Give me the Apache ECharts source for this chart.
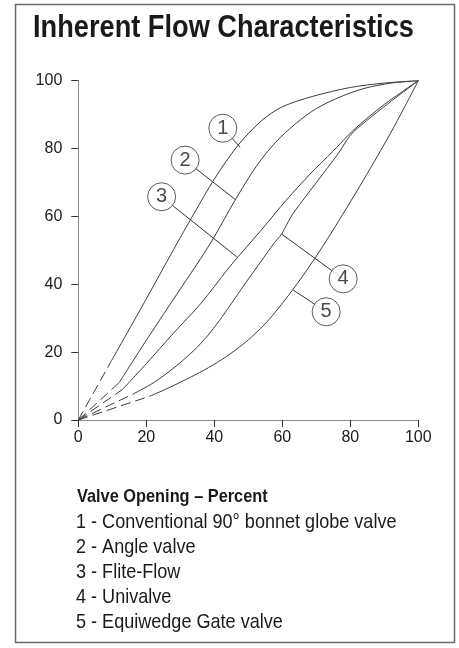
<!DOCTYPE html>
<html>
<head>
<meta charset="utf-8">
<script src="https://cdn.jsdelivr.net/npm/echarts@6/dist/echarts.min.js"></script>
<style>
  html, body { margin: 0; padding: 0; background: #fff; }
  #chart { width: 459px; height: 648px; }
</style>
</head>
<body>
<div id="chart"></div>
<script>
// Axis ticks (percent)
const axisTicks = [0, 20, 40, 60, 80, 100];

// Flow (%) vs. valve opening (%); the first segment from the origin is drawn dashed
const globeValve = [[0, 0], [9.5, 17], [20, 35.7], [28, 50.2], [34, 60.8], [40, 71], [47, 81], [54, 88.3], [60, 92.3], [69, 95.4], [80, 98], [90, 99.3], [100, 100]];
const angleValve = [[0, 0], [12, 11], [20, 23.5], [30, 38.6], [36, 47.6], [40, 54], [46, 64.6], [52.5, 75], [58, 81.8], [64, 87.4], [70, 91.8], [77, 95.2], [84, 97.7], [92, 99.3], [100, 100]];
const fliteFlow = [[0, 0], [13, 9], [20, 16.6], [28, 25.6], [36, 34.3], [44, 44.5], [47, 48.1], [54, 56.2], [61, 64.6], [68, 72.3], [75, 79.3], [81, 85.5], [90, 93], [100, 100]];
const univalve = [[0, 0], [16, 7.6], [22, 10.9], [28.4, 15.6], [34, 20.5], [38, 24.8], [41.5, 29.3], [45, 34.3], [49.5, 40.8], [54, 47.1], [57.5, 52], [59.8, 54.8], [61.3, 57.6], [63.2, 60.9], [67, 66], [72, 72.6], [76.5, 78.6], [81, 85], [100, 100]];
const equiwedgeGate = [[0, 0], [21, 7], [26, 9.2], [31.4, 11.8], [37, 14.7], [42.2, 17.8], [47, 21.2], [51, 24.5], [56, 29.5], [60.8, 35.4], [65.2, 41.3], [70, 48.3], [74, 54.5], [79, 62.6], [83.8, 70.6], [88, 77.8], [91.7, 84.3], [96, 92.3], [100, 100]];

const curves = [globeValve, angleValve, fliteFlow, univalve, equiwedgeGate];

// Numbered callouts: bubble centre and the point on each curve it refers to
const calloutLabels = ['1', '2', '3', '4', '5'];
const calloutCenters = [[42.5, 86], [31.4, 76.6], [24.5, 65.8], [77.9, 41.6], [72.9, 31.9]];
const calloutTargets = [[47.6, 80.4], [46.4, 64.8], [46.6, 48.1], [59.8, 54.8], [63.2, 38.3]];

// Key text
const chartTitle = 'Inherent Flow Characteristics';
const keyHeading = 'Valve Opening \u2013 Percent';
const keyItems = [
  '1 - Conventional 90\u00b0 bonnet globe valve',
  '2 - Angle valve',
  '3 - Flite-Flow',
  '4 - Univalve',
  '5 - Equiwedge Gate valve'
];

const sans = "'Liberation Sans', Arial, Helvetica, sans-serif";
const curveColor = '#3c3c3c';

const series = [];
curves.forEach(function (pts) {
  series.push({
    type: 'line',
    data: pts.slice(0, 2),
    showSymbol: false,
    silent: true,
    lineStyle: { color: curveColor, width: 1, type: [10, 5] },
    z: 2
  });
  series.push({
    type: 'line',
    data: pts.slice(1),
    showSymbol: false,
    silent: true,
    smooth: 0.3,
    lineStyle: { color: curveColor, width: 1 },
    z: 2
  });
});

series.push({
  type: 'lines',
  coordinateSystem: 'cartesian2d',
  silent: true,
  symbol: ['none', 'none'],
  lineStyle: { color: '#333', width: 1, opacity: 1 },
  data: calloutCenters.map(function (c, i) { return { coords: [c, calloutTargets[i]] }; }),
  z: 3
});

series.push({
  type: 'scatter',
  silent: true,
  symbol: 'circle',
  symbolSize: 28,
  itemStyle: { color: '#fff', borderColor: '#333', borderWidth: 1 },
  label: {
    show: true,
    position: 'inside',
    formatter: function (p) { return calloutLabels[p.dataIndex]; },
    fontFamily: sans,
    fontSize: 20,
    color: '#1a1a1a'
  },
  data: calloutCenters,
  z: 4
});

// Condensed lettering: a regular face squeezed horizontally
function condensedText(text, x, y, size, bold, squeeze) {
  return {
    type: 'text',
    x: x,
    y: y,
    scaleX: squeeze,
    silent: true,
    style: {
      text: text,
      fontFamily: sans,
      fontWeight: bold ? 'bold' : 'normal',
      fontSize: size,
      fill: '#1a1a1a',
      verticalAlign: 'middle'
    }
  };
}

const graphics = [
  {
    type: 'rect',
    silent: true,
    shape: { x: 15.5, y: 4.5, width: 439, height: 638 },
    style: { fill: 'none', stroke: '#6a6a6a', lineWidth: 1.5 }
  },
  condensedText(chartTitle, 33, 28, 32, true, 0.85),
  condensedText(keyHeading, 77, 497, 19, true, 0.86)
];
keyItems.forEach(function (t, i) {
  graphics.push(condensedText(t, 76, 522 + i * 25, 21, false, 0.86));
});

function valueAxis() {
  return {
    type: 'value',
    min: axisTicks[0],
    max: axisTicks[axisTicks.length - 1],
    interval: axisTicks[1] - axisTicks[0],
    splitLine: { show: false },
    axisLine: { show: true, lineStyle: { color: '#8a8a8a', width: 1 } },
    axisTick: { show: true, length: 7, lineStyle: { color: '#333', width: 1 } },
    axisLabel: { fontFamily: sans, fontSize: 16, color: '#1a1a1a' }
  };
}

const xAxis = valueAxis();
xAxis.axisLabel.margin = 10;
const yAxis = valueAxis();
yAxis.axisLabel.margin = 16;

const chart = echarts.init(document.getElementById('chart'), null, { renderer: 'canvas' });
chart.setOption({
  animation: false,
  backgroundColor: '#fff',
  grid: { left: 78.3, right: 40.7, top: 80.7, bottom: 228, containLabel: false },
  xAxis: xAxis,
  yAxis: yAxis,
  series: series,
  graphic: graphics
});
</script>
</body>
</html>
